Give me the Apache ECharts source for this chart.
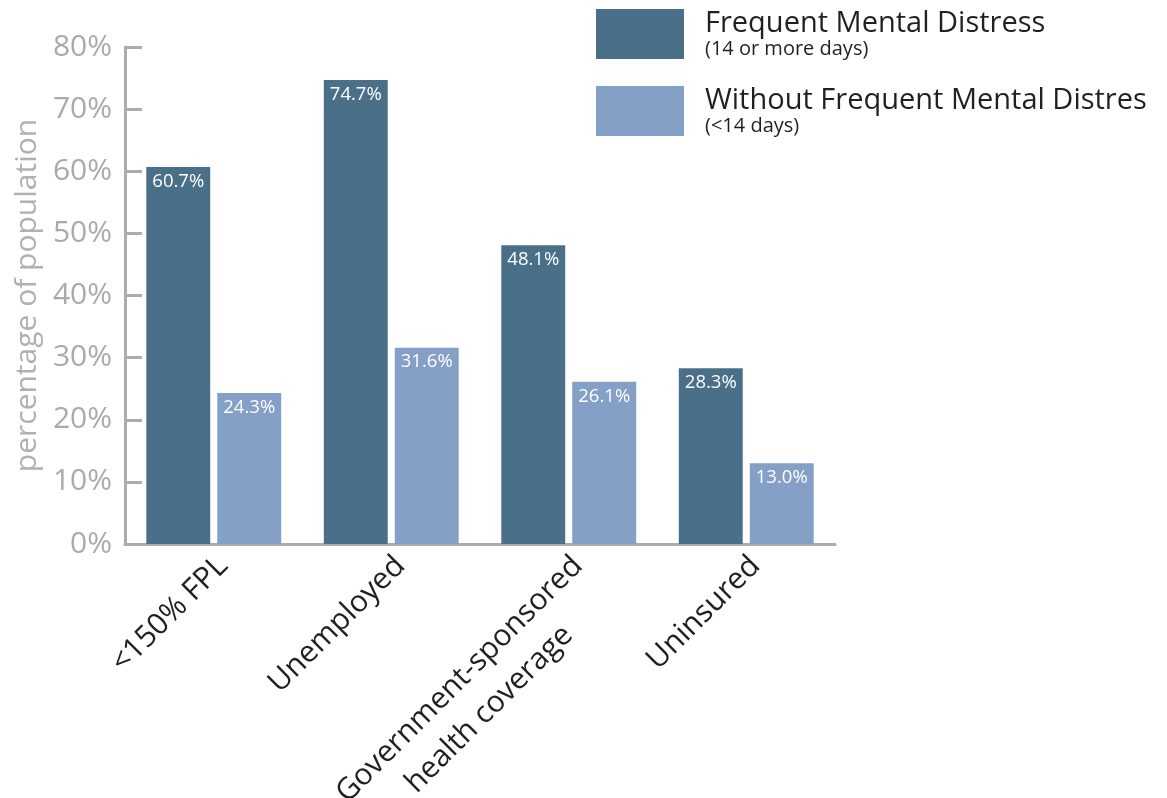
<!DOCTYPE html>
<html>
<head>
<meta charset="utf-8">
<script src="https://cdn.jsdelivr.net/npm/echarts@6/dist/echarts.min.js"></script>
<style>
  html, body { margin: 0; padding: 0; background: #ffffff; }
  #chart { width: 1167px; height: 798px; }
</style>
</head>
<body>
<div id="chart"></div>
<script>
const categories = ['<150% FPL', 'Unemployed', 'Government-sponsored\nhealth coverage', 'Uninsured'];
const seriesNames = ['Frequent Mental Distress', 'Without Frequent Mental Distres'];
const seriesSubtitles = ['(14 or more days)', '(<14 days)'];
const frequentValues = [60.7, 74.7, 48.1, 28.3];
const withoutValues = [24.3, 31.6, 26.1, 13.0];
const yAxisName = 'percentage of population';

const FONT = "'Open Sans', 'Noto Sans', sans-serif";
const AXIS_GRAY = '#abacae';
const DARK = '#4a7089';
const LIGHT = '#84a0c6';

const chart = echarts.init(document.getElementById('chart'));

function catLabel(value) {
  const parts = value.split('\n');
  if (parts.length === 1) return '{a|' + parts[0] + '}';
  return '{a|' + parts[0] + '}\n{b|' + parts[1] + '}';
}

const option = {
  backgroundColor: '#ffffff',
  animation: false,
  textStyle: { fontFamily: FONT },
  legend: {
    orient: 'vertical',
    left: 596,
    top: 9,
    padding: 0,
    itemWidth: 88,
    itemHeight: 50,
    itemGap: 27,
    icon: 'rect',
    selectedMode: false,
    data: seriesNames,
    formatter: function (name) {
      const i = seriesNames.indexOf(name);
      return '{t|' + name + '}\n{s|' + seriesSubtitles[i] + '}';
    },
    textStyle: {
      padding: [0, 0, 0, 16],
      rich: {
        t: { fontFamily: FONT, fontSize: 29, color: '#231f20', lineHeight: 30 },
        s: { fontFamily: FONT, fontSize: 20, color: '#231f20', lineHeight: 20 }
      }
    }
  },
  grid: { left: 125, right: 332, top: 47, bottom: 254, containLabel: false, outerBoundsMode: 'none' },
  xAxis: {
    type: 'category',
    data: categories,
    axisLine: { lineStyle: { color: AXIS_GRAY, width: 3 } },
    axisTick: { inside: true, length: 11, lineStyle: { color: AXIS_GRAY, width: 3 } },
    axisLabel: {
      rotate: 45,
      interval: 0,
      margin: 8,
      verticalAlign: 'top',
      formatter: catLabel,
      rich: {
        a: { fontFamily: FONT, fontSize: 30, color: '#231f20', lineHeight: 26 },
        b: { fontFamily: FONT, fontSize: 30, color: '#231f20', lineHeight: 58, align: 'center' }
      }
    }
  },
  yAxis: {
    type: 'value',
    min: 0,
    max: 80,
    interval: 10,
    name: yAxisName,
    nameLocation: 'middle',
    nameGap: 82,
    nameTextStyle: { fontFamily: FONT, fontSize: 30, color: '#b0b1b3' },
    splitLine: { show: false },
    axisLine: { show: true, lineStyle: { color: AXIS_GRAY, width: 3 } },
    axisTick: { show: true, inside: true, length: 17, lineStyle: { color: AXIS_GRAY, width: 3 } },
    axisLabel: {
      margin: 13,
      formatter: '{value}%',
      fontFamily: FONT,
      fontSize: 30,
      color: '#a9aaac'
    }
  },
  series: [
    {
      name: seriesNames[0],
      type: 'bar',
      data: frequentValues,
      barGap: '11%',
      barCategoryGap: '24%',
      itemStyle: { color: DARK },
      label: {
        show: true,
        position: 'insideTop',
        distance: 5,
        color: '#ffffff',
        fontFamily: FONT,
        fontSize: 18.5,
        formatter: p => p.value.toFixed(1) + '%'
      }
    },
    {
      name: seriesNames[1],
      type: 'bar',
      data: withoutValues,
      barGap: '11%',
      barCategoryGap: '24%',
      itemStyle: { color: LIGHT },
      label: {
        show: true,
        position: 'insideTop',
        distance: 5,
        color: '#ffffff',
        fontFamily: FONT,
        fontSize: 18.5,
        formatter: p => p.value.toFixed(1) + '%'
      }
    }
  ]
};

chart.setOption(option);
</script>
</body>
</html>
